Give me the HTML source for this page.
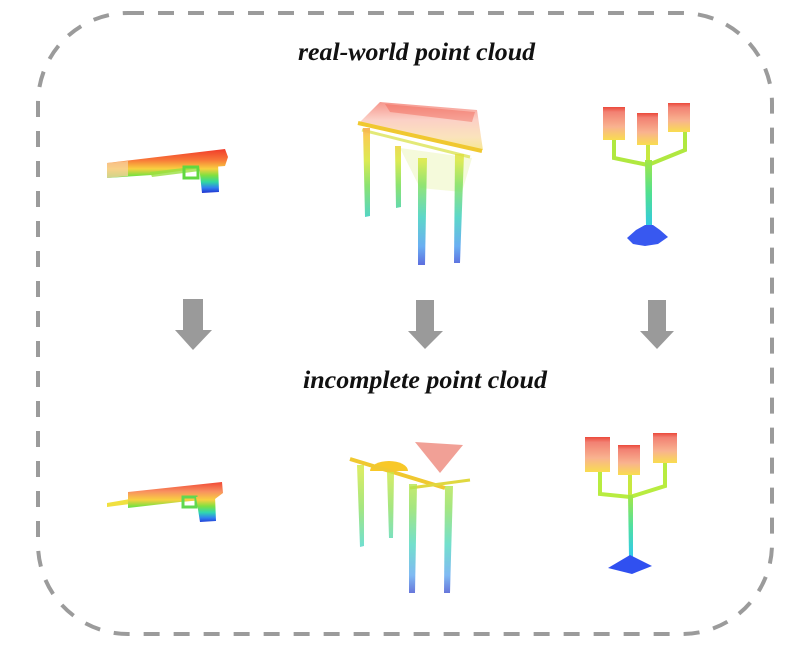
<!DOCTYPE html>
<html>
<head>
<meta charset="utf-8">
<style>
  html,body{margin:0;padding:0;background:#fff;}
  body{width:804px;height:649px;overflow:hidden;}
  svg{display:block;}
</style>
</head>
<body>
<svg width="804" height="649" viewBox="0 0 804 649" xmlns="http://www.w3.org/2000/svg">
  <defs>
    <linearGradient id="gGunTop" gradientUnits="userSpaceOnUse" x1="0" y1="149" x2="0" y2="193">
      <stop offset="0" stop-color="#f03a2a"/>
      <stop offset="0.25" stop-color="#f87838"/>
      <stop offset="0.45" stop-color="#f8d040"/>
      <stop offset="0.6" stop-color="#80e040"/>
      <stop offset="0.75" stop-color="#30d8a0"/>
      <stop offset="0.88" stop-color="#3080f0"/>
      <stop offset="1" stop-color="#2030d0"/>
    </linearGradient>
    <linearGradient id="gTableTop" gradientUnits="userSpaceOnUse" x1="0" y1="104" x2="0" y2="266">
      <stop offset="0" stop-color="#f04a3a"/>
      <stop offset="0.1" stop-color="#f89060"/>
      <stop offset="0.2" stop-color="#f8c840"/>
      <stop offset="0.35" stop-color="#d8e840"/>
      <stop offset="0.5" stop-color="#80e060"/>
      <stop offset="0.7" stop-color="#40d0c0"/>
      <stop offset="0.88" stop-color="#50a0f0"/>
      <stop offset="1" stop-color="#4050d8"/>
    </linearGradient>
    <linearGradient id="gSurf" gradientUnits="userSpaceOnUse" x1="0" y1="102" x2="0" y2="152">
      <stop offset="0" stop-color="#f05040"/>
      <stop offset="0.35" stop-color="#f8b0a0"/>
      <stop offset="0.7" stop-color="#f8d090"/>
      <stop offset="1" stop-color="#f0d840"/>
    </linearGradient>
    <linearGradient id="gCup" x1="0" y1="0" x2="0" y2="1">
      <stop offset="0" stop-color="#e83020"/>
      <stop offset="0.15" stop-color="#f07060"/>
      <stop offset="0.6" stop-color="#f8a880"/>
      <stop offset="1" stop-color="#f8d838"/>
    </linearGradient>
    <linearGradient id="gStemTop" gradientUnits="userSpaceOnUse" x1="0" y1="158" x2="0" y2="228">
      <stop offset="0" stop-color="#a8e840"/>
      <stop offset="0.5" stop-color="#50e090"/>
      <stop offset="1" stop-color="#30c8e8"/>
    </linearGradient>
    <linearGradient id="gGunBot" gradientUnits="userSpaceOnUse" x1="0" y1="481" x2="0" y2="523">
      <stop offset="0" stop-color="#f04030"/>
      <stop offset="0.25" stop-color="#f89060"/>
      <stop offset="0.45" stop-color="#f8d040"/>
      <stop offset="0.6" stop-color="#80e040"/>
      <stop offset="0.75" stop-color="#30d8b0"/>
      <stop offset="0.88" stop-color="#3080f0"/>
      <stop offset="1" stop-color="#2030d0"/>
    </linearGradient>
    <linearGradient id="gLegBot" gradientUnits="userSpaceOnUse" x1="0" y1="470" x2="0" y2="594">
      <stop offset="0" stop-color="#d0e840"/>
      <stop offset="0.3" stop-color="#90e060"/>
      <stop offset="0.6" stop-color="#50d8c0"/>
      <stop offset="0.85" stop-color="#60a8f0"/>
      <stop offset="1" stop-color="#4050d0"/>
    </linearGradient>
    <linearGradient id="gStemBot" gradientUnits="userSpaceOnUse" x1="0" y1="494" x2="0" y2="558">
      <stop offset="0" stop-color="#a8e840"/>
      <stop offset="0.5" stop-color="#50e0a0"/>
      <stop offset="1" stop-color="#30c8f0"/>
    </linearGradient>
  </defs>

  <!-- dashed rounded border -->
  <rect x="38" y="13" width="734" height="621" rx="90" ry="90" fill="none" stroke="#9b9b9b" stroke-width="4" stroke-dasharray="16 14"/>

  <!-- titles -->
  <text x="298" y="60" font-family="'Liberation Serif', serif" font-weight="bold" font-style="italic" font-size="25" fill="#111" textLength="237" lengthAdjust="spacingAndGlyphs">real-world point cloud</text>
  <text x="303" y="388" font-family="'Liberation Serif', serif" font-weight="bold" font-style="italic" font-size="25" fill="#111" textLength="244" lengthAdjust="spacingAndGlyphs">incomplete point cloud</text>

  <!-- arrows -->
  <polygon points="183,299 203,299 203,330 212,330 193,350 175,330 183,330" fill="#9a9a9a"/>
  <polygon points="416,300 434,300 434,331 443,331 425,349 408,331 416,331" fill="#9a9a9a"/>
  <polygon points="648,300 666,300 666,331 674,331 657,349 640,331 648,331" fill="#9a9a9a"/>

  <!-- ===== TOP ROW ===== -->
  <!-- gun top -->
  <g>
    <polygon points="107,163 225,149 228,157 225,166 200,168 152,175 107,178" fill="url(#gGunTop)"/>
    <polygon points="107,163 128,161 128,176 107,178" fill="#f8d0a0" opacity="0.75"/>
    <polygon points="150,172 200,166 200,171 152,177" fill="#98e040" opacity="0.8"/>
    <rect x="184" y="167" width="14" height="11" fill="none" stroke="#60d840" stroke-width="3"/>
    <polygon points="199,165 218,162 219,192 202,193" fill="url(#gGunTop)"/>
  </g>

  <!-- table top -->
  <g>
    <polygon points="380,102 477,110 483,150 358,124" fill="url(#gSurf)" opacity="0.6"/>
    <polygon points="385,104 475,112 472,122 390,112" fill="#f05a48" opacity="0.4"/>
    <polygon points="400,148 472,158 462,192 420,188" fill="#d8ec70" opacity="0.25"/>
    <line x1="358" y1="123" x2="482" y2="151" stroke="#f0c830" stroke-width="4"/>
    <line x1="362" y1="130" x2="470" y2="157" stroke="#d8e040" stroke-width="3" opacity="0.7"/>
    <polygon points="363,128 370,128 370,216 365,217" fill="url(#gTableTop)" opacity="0.9"/>
    <polygon points="395,146 401,146 401,207 396,208" fill="url(#gTableTop)" opacity="0.9"/>
    <polygon points="418,158 427,158 425,265 418,265" fill="url(#gTableTop)" opacity="0.85"/>
    <polygon points="455,154 464,154 460,263 454,263" fill="url(#gTableTop)" opacity="0.85"/>
  </g>

  <!-- candelabra top -->
  <g>
    <polyline points="614,140 614,158 648,165 685,150 685,132" fill="none" stroke="#b0e840" stroke-width="4"/>
    <line x1="648" y1="145" x2="648" y2="162" stroke="#c8e840" stroke-width="4"/>
    <polygon points="645,160 652,160 652,226 646,226" fill="url(#gStemTop)"/>
    <rect x="603" y="107" width="22" height="33" fill="url(#gCup)" opacity="0.88"/>
    <rect x="637" y="113" width="21" height="32" fill="url(#gCup)" opacity="0.88"/>
    <rect x="668" y="103" width="22" height="29" fill="url(#gCup)" opacity="0.88"/>
    <polygon points="627,238 636,230 645,225 653,225 660,230 668,237 658,244 645,246 633,244" fill="#3858f0"/>
  </g>

  <!-- ===== BOTTOM ROW ===== -->
  <!-- gun bottom -->
  <g>
    <polygon points="107,503 130,499 130,504 107,507" fill="#f0e040"/>
    <polygon points="128,492 222,482 223,493 215,499 180,502 128,508" fill="url(#gGunBot)"/>
    <rect x="183" y="497" width="13" height="10" fill="none" stroke="#60d850" stroke-width="3"/>
    <polygon points="196,497 215,496 216,521 200,522" fill="url(#gGunBot)"/>
  </g>

  <!-- table bottom -->
  <g>
    <polygon points="415,442 463,445 440,473" fill="#e86050" opacity="0.6"/>
    <path d="M370,471 A19,10 0 0 1 408,471 Z" fill="#f8c828"/>
    <line x1="350" y1="459" x2="445" y2="488" stroke="#f0c830" stroke-width="4"/>
    <line x1="410" y1="488" x2="470" y2="480" stroke="#e0d840" stroke-width="3"/>
    <polygon points="357,465 364,465 364,546 360,547" fill="url(#gLegBot)" opacity="0.8"/>
    <polygon points="387,472 394,472 393,538 389,538" fill="url(#gLegBot)" opacity="0.8"/>
    <polygon points="409,484 417,484 415,593 409,593" fill="url(#gLegBot)" opacity="0.8"/>
    <polygon points="445,486 453,486 450,593 444,593" fill="url(#gLegBot)" opacity="0.8"/>
  </g>

  <!-- candelabra bottom -->
  <g>
    <polyline points="600,472 600,494 630,497 665,486 665,463" fill="none" stroke="#b8ec40" stroke-width="4"/>
    <line x1="630" y1="475" x2="630" y2="497" stroke="#c8e840" stroke-width="4"/>
    <polygon points="628,495 633,495 633,557 629,557" fill="url(#gStemBot)"/>
    <rect x="585" y="437" width="25" height="35" fill="url(#gCup)" opacity="0.88"/>
    <rect x="618" y="445" width="22" height="30" fill="url(#gCup)" opacity="0.88"/>
    <rect x="653" y="433" width="24" height="30" fill="url(#gCup)" opacity="0.88"/>
    <polygon points="608,568 630,555 652,566 632,574" fill="#3050f0"/>
  </g>
</svg>
</body>
</html>
